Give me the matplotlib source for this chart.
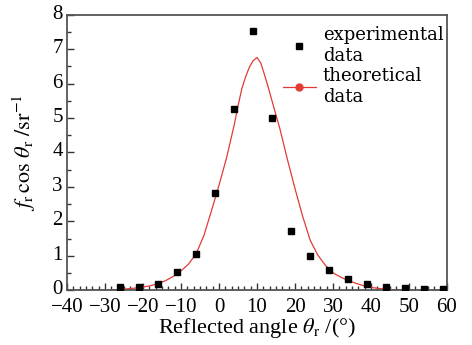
import matplotlib
matplotlib.use("Agg")
import matplotlib.pyplot as plt
from matplotlib.ticker import MultipleLocator, AutoMinorLocator
from matplotlib.lines import Line2D
from matplotlib.transforms import ScaledTranslation

# Experimental data (squares)
exp_angle = [-26, -21, -16, -11, -6, -1, 4, 9, 14, 19, 24, 29, 34, 39, 44, 49, 54, 59]
exp_value = [0.09, 0.08, 0.18, 0.53, 1.04, 2.83, 5.27, 7.53, 4.99, 1.73, 1.00, 0.58,
             0.31, 0.17, 0.10, 0.06, 0.04, 0.03]

# Theoretical curve
theo_angle = [-40, -35, -30, -28, -26, -24, -22, -20, -18, -16, -14, -12, -10, -8, -6,
              -4, -2, 0, 2, 4, 5, 6, 7, 8, 9, 10, 11, 12, 13, 14, 16, 18, 20, 22, 24,
              26, 28, 30, 32, 34, 36, 38, 40, 42, 44, 46, 48, 50, 55, 60]
theo_value = [0, 0, 0, 0.01, 0.02, 0.04, 0.06, 0.09, 0.13, 0.19, 0.28, 0.40, 0.56, 0.76,
              1.06, 1.58, 2.30, 3.05, 3.85, 4.80, 5.35, 5.85, 6.20, 6.48, 6.67, 6.76,
              6.60, 6.25, 5.88, 5.48, 4.70, 3.80, 2.95, 2.15, 1.45, 1.02, 0.72, 0.50,
              0.38, 0.28, 0.20, 0.13, 0.08, 0.05, 0.03, 0.01, 0, 0, 0, 0]

x_ticks = [-40, -30, -20, -10, 0, 10, 20, 30, 40, 50, 60]
y_ticks = [0, 1, 2, 3, 4, 5, 6, 7, 8]

plt.rcParams['font.family'] = ['Liberation Serif', 'DejaVu Serif']
plt.rcParams['mathtext.fontset'] = 'stix'

fig = plt.figure(figsize=(4.72, 3.45), dpi=100)
ax = fig.add_axes([0.142, 0.159, 0.805, 0.798])

red = '#e23b36'
ax.plot(theo_angle, theo_value, color=red, lw=0.9, zorder=2)
ax.plot(exp_angle, exp_value, linestyle='none', marker='s', ms=5, color='black',
        zorder=3)

ax.set_xlim(-40, 60)
ax.set_ylim(0, 8)
ax.set_xticks(x_ticks)
ax.set_xticklabels([str(t).replace('-', '\u2212') for t in x_ticks])
ax.set_yticks(y_ticks)
ax.xaxis.set_minor_locator(AutoMinorLocator(6))
ax.yaxis.set_minor_locator(MultipleLocator(0.5))
ax.tick_params(which='both', direction='in', top=False, right=False,
               labelsize=15, color='#333333')
ax.tick_params(axis='x', pad=6)
ax.tick_params(axis='y', pad=3)
ax.tick_params(which='major', length=5, width=1)
ax.tick_params(which='minor', length=3, width=1)
for s in ax.spines.values():
    s.set_color('#555555')
    s.set_linewidth(1.3)

ax.set_xlabel(r'Reflected angle $\theta_{\rm r}$ /(°)', fontsize=16, labelpad=-1)
ax.set_ylabel(r'$f_{\rm r}\,\cos\,\theta_{\rm r}\ /{\rm sr}^{-1}$', fontsize=16, labelpad=10)

h_exp = Line2D([], [], linestyle='none', marker='s', ms=4, color='black')
h_theo = Line2D([], [], color=red, lw=0.9, marker='o', ms=5)
leg = ax.legend([h_exp, h_theo], ['experimental\ndata', 'theoretical\ndata'],
                loc='upper right', frameon=False,
                prop={'family': 'DejaVu Serif', 'size': 13}, handlelength=1.8,
                handletextpad=0.4, labelspacing=0.1, borderaxespad=0.0,
                bbox_to_anchor=(1.01, 0.985))

# nudge y tick labels up slightly so "0" does not collide with "-40"
shift = ScaledTranslation(0, 3 / 100, fig.dpi_scale_trans)
for t in ax.yaxis.get_major_ticks():
    t.label1.set_transform(t.label1.get_transform() + shift)

fig.savefig('out.png', dpi=100, facecolor='white')
